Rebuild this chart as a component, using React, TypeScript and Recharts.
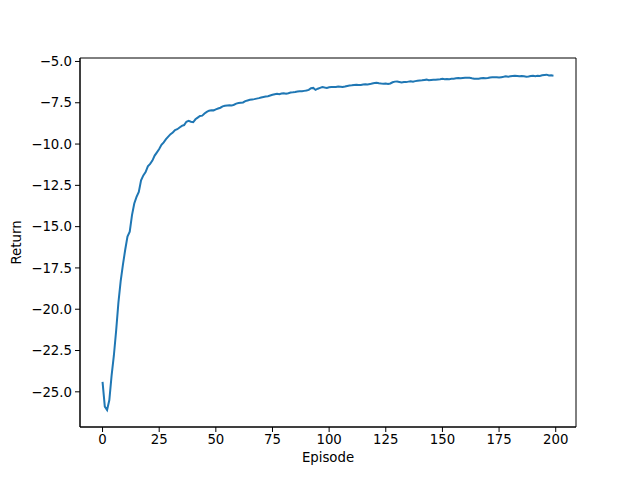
import { LineChart, Line, XAxis, YAxis, Label, ReferenceArea } from "recharts";

// Return per episode
const returns: number[] = [
  -24.4, -25.9, -26.1, -25.5, -24.0, -22.8, -21.3, -19.6, -18.3, -17.3,
  -16.4, -15.6, -15.3, -14.3, -13.6, -13.2, -12.9, -12.2, -11.9, -11.7,
  -11.35, -11.2, -11.0, -10.7, -10.5, -10.3, -10.05, -9.9, -9.7, -9.55,
  -9.4, -9.3, -9.15, -9.1, -9.0, -8.9, -8.85, -8.65, -8.6, -8.65,
  -8.68, -8.5, -8.4, -8.3, -8.28, -8.15, -8.05, -7.98, -7.95, -7.96,
  -7.9, -7.85, -7.8, -7.72, -7.68, -7.66, -7.65, -7.67, -7.62, -7.55,
  -7.52, -7.5, -7.48, -7.4, -7.36, -7.32, -7.3, -7.28, -7.25, -7.22,
  -7.18, -7.15, -7.12, -7.1, -7.06, -7.02, -6.98, -6.96, -6.98, -6.94,
  -6.93, -6.95, -6.92, -6.88, -6.87, -6.85, -6.82, -6.8, -6.8, -6.78,
  -6.76, -6.72, -6.62, -6.6, -6.72, -6.65, -6.6, -6.55, -6.58, -6.6,
  -6.56, -6.55, -6.54, -6.55, -6.52, -6.53, -6.55, -6.52, -6.48, -6.45,
  -6.44, -6.42, -6.41, -6.43, -6.42, -6.4, -6.38, -6.39, -6.37, -6.33,
  -6.3, -6.29, -6.32, -6.34, -6.35, -6.34, -6.36, -6.33, -6.26, -6.22,
  -6.21, -6.24, -6.27, -6.24, -6.25, -6.22, -6.2, -6.23, -6.19, -6.17,
  -6.15, -6.14, -6.12, -6.1, -6.14, -6.12, -6.1, -6.11, -6.09, -6.08,
  -6.05, -6.08, -6.06, -6.07, -6.05, -6.04, -6.02, -6.0, -6.01, -6.0,
  -5.99, -5.98, -5.99, -6.02, -6.04, -6.05, -6.05, -6.02, -6.0, -6.02,
  -6.0, -5.97, -5.96, -5.95, -5.95, -5.97, -5.95, -5.93, -5.9, -5.92,
  -5.9, -5.88, -5.86, -5.88, -5.9, -5.88, -5.9, -5.92, -5.91, -5.88,
  -5.87, -5.89, -5.86, -5.88, -5.84, -5.82, -5.8, -5.85, -5.84, -5.86,
];

const xTicks = [0, 25, 50, 75, 100, 125, 150, 175, 200];
const yTicks = [-25, -22.5, -20, -17.5, -15, -12.5, -10, -7.5, -5];

const data = returns.map((value, i) => ({ episode: i, value }));

const X_DOMAIN: [number, number] = [-9.95, 208.95];
const Y_DOMAIN: [number, number] = [-27.13, -4.79];

const FONT = "'DejaVu Sans', sans-serif";
const tickStyle = { fill: "#000", fontSize: 13.3, fontFamily: FONT };
const minus = (v: number) => v.toFixed(1).replace("-", "\u2212");

export default function App() {
  return (
    <div style={{ position: "absolute", left: 0, top: 0, background: "#fff" }}>
      <LineChart
        width={640}
        height={480}
        data={data}
        margin={{ top: 58, right: 64, left: 0, bottom: 23 }}
      >
        <XAxis
          dataKey="episode"
          type="number"
          domain={X_DOMAIN}
          ticks={xTicks}
          height={30}
          tick={tickStyle}
          tickSize={5}
          tickMargin={3}
          tickLine={{ stroke: "#000" }}
          axisLine={{ stroke: "#000", strokeWidth: 1 }}
        >
          <Label
            value="Episode"
            position="bottom"
            offset={-4}
            style={{ fill: "#000", fontSize: 13.3, fontFamily: FONT }}
          />
        </XAxis>
        <YAxis
          type="number"
          domain={Y_DOMAIN}
          ticks={yTicks}
          width={80}
          tick={tickStyle}
          tickSize={5}
          tickMargin={3}
          tickFormatter={minus}
          tickLine={{ stroke: "#000" }}
          axisLine={{ stroke: "#000", strokeWidth: 1 }}
        >
          <Label
            value="Return"
            angle={-90}
            position="insideLeft"
            offset={16}
            style={{ fill: "#000", fontSize: 13.3, fontFamily: FONT, textAnchor: "middle" }}
          />
        </YAxis>

        {/* frame around the plot area */}
        <ReferenceArea
          x1={X_DOMAIN[0]}
          x2={X_DOMAIN[1]}
          y1={Y_DOMAIN[0]}
          y2={Y_DOMAIN[1]}
          fill="none"
          fillOpacity={0}
          stroke="#000"
          strokeWidth={1}
          strokeOpacity={1}
        />

        <Line
          dataKey="value"
          stroke="#1f77b4"
          strokeWidth={2}
          dot={false}
          isAnimationActive={false}
        />
      </LineChart>
    </div>
  );
}
